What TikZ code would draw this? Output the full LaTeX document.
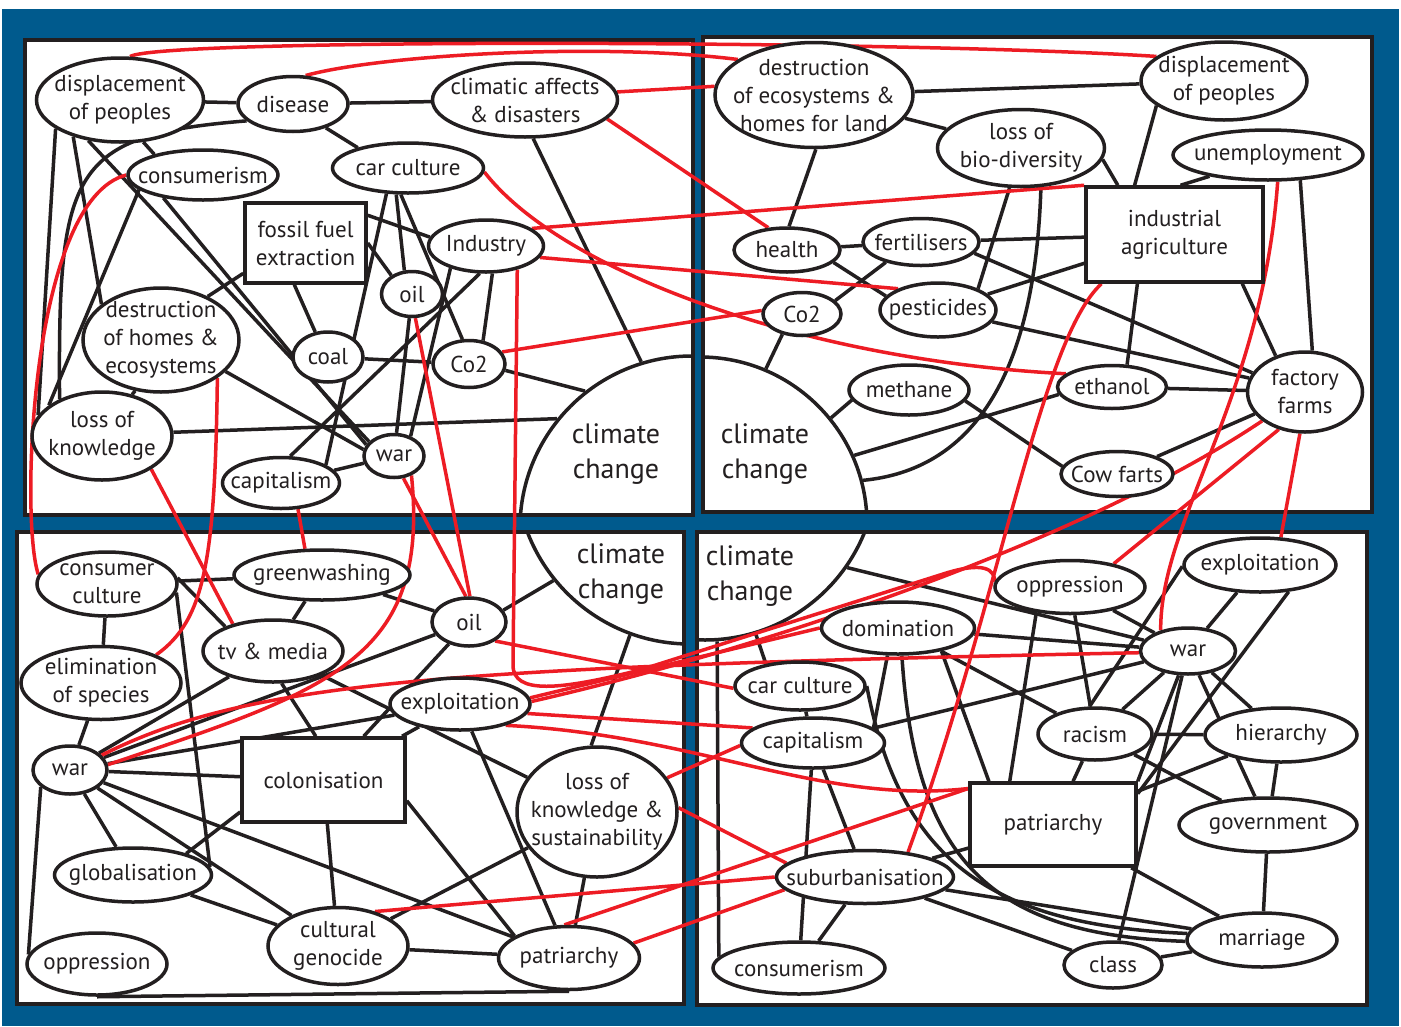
\documentclass[tikz,border=0pt]{standalone}
\usepackage{fontspec}
\setmainfont{PT Sans}
\usepackage{tikz}
\usetikzlibrary{shapes,arrows}
\definecolor{bgblue}{RGB}{0,90,141}
\definecolor{linkred}{RGB}{237,28,36}
\definecolor{inkblack}{RGB}{35,31,32}
\pgfdeclarelayer{panels}
\pgfdeclarelayer{links}
\pgfsetlayers{panels,links,main}
\tikzstyle{bubble} = [ellipse, draw=inkblack, line width=3.5pt, fill=white, inner sep=0pt]
\tikzstyle{words} = [align=center, inner sep=0pt, text=inkblack, font=\fontsize{23}{28}\selectfont]
\tikzstyle{boxnode} = [rectangle, draw=inkblack, line width=3.5pt, fill=white, inner sep=0pt, align=center, text=inkblack, font=\fontsize{23}{28}\selectfont]
\tikzstyle{bigcircle} = [circle, draw=inkblack, line width=3.5pt, fill=white, inner sep=0pt]
\tikzstyle{bigwords} = [align=center, inner sep=0pt, text=inkblack, font=\fontsize{28}{35}\selectfont]
\tikzstyle{panel} = [draw=inkblack, line width=4pt, fill=white]
\tikzstyle{blackline} = [line width=3.5pt, inkblack]
\tikzstyle{redline} = [line width=3.5pt, linkred]

\begin{document}
\begin{tikzpicture}[x=1pt, y=-1pt]
\useasboundingbox (0,0) rectangle (1401,1026);

\begin{pgfonlayer}{panels}
\fill[bgblue] (2,9) rectangle (1399,1026);
\fill[white] (25,40) rectangle (693,515);
\fill[white] (703,37) rectangle (1372,512);
\fill[white] (17,532) rectangle (684,1004);
\fill[white] (697,532) rectangle (1367,1005);
\begin{scope}
\clip (25,40) rectangle (693,515);
\node[bigcircle, minimum size=344pt] (ccTL) at (692,528) {};
\end{scope}
\begin{scope}
\clip (703,37) rectangle (1372,512);
\node[bigcircle, minimum size=334pt] (ccTR) at (700,524) {};
\end{scope}
\begin{scope}
\clip (17,532) rectangle (684,1004);
\node[bigcircle, minimum size=348pt] (ccBL) at (690,470) {};
\end{scope}
\begin{scope}
\clip (697,532) rectangle (1367,1005);
\node[bigcircle, minimum size=344pt] (ccBR) at (705,468) {};
\end{scope}
\draw[panel, fill=none] (25,40) rectangle (693,515);
\draw[panel, fill=none] (703,37) rectangle (1372,512);
\draw[panel, fill=none] (17,532) rectangle (684,1004);
\draw[panel, fill=none] (697,532) rectangle (1367,1005);
\end{pgfonlayer}

\node[bigwords] (ccTLtext) at (616,454) {climate\\change};
\node[bigwords] (ccTRtext) at (765,454) {climate\\change};
\node[bigwords] (ccBLtext) at (621,574) {climate\\change};
\node[bigwords] (ccBRtext) at (750,576) {climate\\change};

\node[bubble, minimum width=167pt, minimum height=84pt, label={[words]center:{displacement\\of peoples}}] (dispTL) at (120,100) {};
\node[bubble, minimum width=110pt, minimum height=55pt, label={[words]center:disease}] (disease) at (293,104) {};
\node[bubble, minimum width=185pt, minimum height=74pt, label={[words]center:{climatic affects\\\& disasters}}] (climatic) at (525,100) {};
\node[bubble, minimum width=150pt, minimum height=50pt, label={[words]center:consumerism}] (consumTL) at (203,175) {};
\node[bubble, minimum width=151pt, minimum height=50pt, label={[words]center:car culture}] (carcultTL) at (408,168) {};
\node[boxnode, minimum width=121pt, minimum height=80pt] (fossil) at (305.5,243) {fossil fuel\\extraction};
\node[bubble, minimum width=115pt, minimum height=52pt, label={[words]center:Industry}] (industry) at (486,246) {};
\node[bubble, minimum width=61pt, minimum height=45pt, label={[words]center:oil}] (oilTL) at (412,294) {};
\node[bubble, minimum width=156pt, minimum height=104pt, label={[words]center:{destruction\\of homes \&\\ecosystems}}] (destTL) at (161,340) {};
\node[bubble, minimum width=70pt, minimum height=50pt, label={[words]center:coal}] (coal) at (328,357) {};
\node[bubble, minimum width=72pt, minimum height=47pt, label={[words]center:Co2}] (co2TL) at (469,364) {};
\node[bubble, minimum width=140pt, minimum height=88pt, label={[words]center:{loss of\\knowledge}}] (lossTL) at (102,436) {};
\node[bubble, minimum width=60pt, minimum height=43pt, label={[words]center:war}] (warTL) at (394,456) {};
\node[bubble, minimum width=117pt, minimum height=51pt, label={[words]center:capitalism}] (capitalTL) at (281,483) {};

\node[bubble, minimum width=198pt, minimum height=105pt, label={[words]center:{destruction\\of ecosystems \&\\homes for land}}] (destTR) at (814,95) {};
\node[bubble, minimum width=166pt, minimum height=78pt, label={[words]center:{displacement\\of peoples}}] (dispTR) at (1224,81) {};
\node[bubble, minimum width=167pt, minimum height=77pt, label={[words]center:{loss of\\bio-diversity}}] (biodiv) at (1021,148) {};
\node[bubble, minimum width=190pt, minimum height=50pt, label={[words]center:unemployment}] (unemployment) at (1268,155) {};
\node[boxnode, minimum width=177pt, minimum height=95pt] (indag) at (1174.5,234.5) {industrial\\agriculture};
\node[bubble, minimum width=106pt, minimum height=44pt, label={[words]center:health}] (health) at (787,250) {};
\node[bubble, minimum width=116pt, minimum height=47pt, label={[words]center:fertilisers}] (fertilisers) at (921,242) {};
\node[bubble, minimum width=78pt, minimum height=43pt, label={[words]center:Co2}] (co2TR) at (802,314) {};
\node[bubble, minimum width=116pt, minimum height=54pt, label={[words]center:pesticides}] (pesticides) at (938,310) {};
\node[bubble, minimum width=120pt, minimum height=50pt, label={[words]center:methane}] (methane) at (909,390) {};
\node[bubble, minimum width=109pt, minimum height=43pt, label={[words]center:ethanol}] (ethanol) at (1112,387) {};
\node[bubble, minimum width=115pt, minimum height=80pt, label={[words]center:{factory\\farms}}] (factory) at (1305,392) {};
\node[bubble, minimum width=112pt, minimum height=45pt, label={[words]center:Cow farts}] (cowfarts) at (1117,474) {};

\node[bubble, minimum width=140pt, minimum height=64pt, label={[words]center:{consumer\\culture}}] (consumculture) at (107,584) {};
\node[bubble, minimum width=176pt, minimum height=50pt, label={[words]center:greenwashing}] (greenwashing) at (322,575) {};
\node[bubble, minimum width=140pt, minimum height=62pt, label={[words]center:tv \& media}] (tvmedia) at (273,651) {};
\node[bubble, minimum width=160pt, minimum height=73pt, label={[words]center:{elimination\\of species}}] (elim) at (101,683) {};
\node[bubble, minimum width=74pt, minimum height=48pt, label={[words]center:oil}] (oilBL) at (469,622) {};
\node[bubble, minimum width=140pt, minimum height=52pt, label={[words]center:exploitation}] (exploitBL) at (460,704) {};
\node[bubble, minimum width=74pt, minimum height=48pt, label={[words]center:war}] (warBL) at (70,770) {};
\node[boxnode, minimum width=163pt, minimum height=84pt] (colonisation) at (323.5,780) {colonisation};
\node[bubble, minimum width=160pt, minimum height=130pt, label={[words]center:{loss of\\knowledge \&\\sustainability}}] (lossBL) at (597,812) {};
\node[bubble, minimum width=157pt, minimum height=54pt, label={[words]center:globalisation}] (globalisation) at (133,875) {};
\node[bubble, minimum width=140pt, minimum height=77pt, label={[words]center:{cultural\\genocide}}] (cultural) at (338,946) {};
\node[bubble, minimum width=141pt, minimum height=63pt, label={[words]center:patriarchy}] (patriarchyBL) at (569,958) {};
\node[bubble, minimum width=140pt, minimum height=62pt, label={[words]center:oppression}] (oppressionBL) at (97,964) {};

\node[bubble, minimum width=150pt, minimum height=53pt, label={[words]center:oppression}] (oppressionBR) at (1070,587) {};
\node[bubble, minimum width=152pt, minimum height=54pt, label={[words]center:exploitation}] (exploitBR) at (1260,565) {};
\node[bubble, minimum width=153pt, minimum height=52pt, label={[words]center:domination}] (domination) at (898,628) {};
\node[bubble, minimum width=95pt, minimum height=46pt, label={[words]center:war}] (warBR) at (1188,651) {};
\node[bubble, minimum width=130pt, minimum height=48pt, label={[words]center:car culture}] (carcultBR) at (800,686) {};
\node[bubble, minimum width=143pt, minimum height=50pt, label={[words]center:capitalism}] (capitalBR) at (813,743) {};
\node[bubble, minimum width=114pt, minimum height=52pt, label={[words]center:racism}] (racism) at (1095,734) {};
\node[bubble, minimum width=152pt, minimum height=54pt, label={[words]center:hierarchy}] (hierarchy) at (1281,735) {};
\node[boxnode, minimum width=166pt, minimum height=83pt] (patriarchyBR) at (1053,824.5) {patriarchy};
\node[bubble, minimum width=178pt, minimum height=54pt, label={[words]center:government}] (government) at (1268,825) {};
\node[bubble, minimum width=177pt, minimum height=53pt, label={[words]center:suburbanisation}] (suburb) at (865,877) {};
\node[bubble, minimum width=150pt, minimum height=54pt, label={[words]center:marriage}] (marriage) at (1262,940) {};
\node[bubble, minimum width=98pt, minimum height=46pt, label={[words]center:class}] (class) at (1113,965) {};
\node[bubble, minimum width=172pt, minimum height=52pt, label={[words]center:consumerism}] (consumBR) at (799,968) {};

\begin{pgfonlayer}{links}
\draw[blackline] (dispTL) -- (disease);
\draw[blackline] (disease) -- (climatic);
\draw[blackline] (disease.324) -- (carcultTL.158);
\draw[blackline] (dispTL.299) -- (consumTL.157);
\draw[blackline] (dispTL.204) -- (lossTL.162);
\draw[blackline] (dispTL.218) -- (destTL.149);
\draw[blackline] (dispTL.232) -- (warTL.150);
\draw[blackline] (consumTL.210) -- (warTL.158);
\draw[blackline] (consumTL.193) -- (lossTL.150);
\draw[blackline] (disease.200) .. controls (70,135) and (58,170) .. (lossTL.139);
\draw[blackline] (destTL.243) -- (lossTL.54);
\draw[blackline] (destTL.43) -- (fossil.206);
\draw[blackline] (destTL.334) -- (warTL.168);
\draw[blackline] (lossTL.3) -- (ccTL.141);
\draw[blackline] (fossil.255) -- (coal.117);
\draw[blackline] (fossil.24) -- (industry.171);
\draw[blackline] (fossil.0) -- (oilTL.138);
\draw[blackline] (carcultTL.230) -- (capitalTL.22);
\draw[blackline] (carcultTL.246) -- (oilTL.108);
\draw[blackline] (carcultTL.255) -- (co2TL.105);
\draw[blackline] (industry.212) -- (warTL.50);
\draw[blackline] (industry.257) -- (capitalTL.71);
\draw[blackline] (industry.283) -- (co2TL.59);
\draw[blackline] (coal) -- (co2TL);
\draw[blackline] (oilTL) -- (warTL);
\draw[blackline] (capitalTL) -- (warTL);
\draw[blackline] (co2TL.350) -- (ccTL.128);
\draw[blackline] (climatic.282) -- (ccTL.107);

\draw[blackline] (destTR) -- (dispTR);
\draw[blackline] (destTR) -- (biodiv);
\draw[blackline] (destTR.272) -- (health.85);
\draw[blackline] (dispTR.200) -- (indag.129);
\draw[blackline] (biodiv.352) -- (indag.139);
\draw[blackline] (unemployment.200) -- (indag.83);
\draw[blackline] (unemployment.322) -- (factory.80);
\draw[blackline] (health) -- (fertilisers);
\draw[blackline] (health.345) -- (pesticides.165);
\draw[blackline] (fertilisers.210) -- (co2TR.22);
\draw[blackline] (fertilisers) -- (indag);
\draw[blackline] (fertilisers.348) -- (factory.160);
\draw[blackline] (pesticides) -- (indag);
\draw[blackline] (pesticides) -- (factory.166);
\draw[blackline] (biodiv.254) -- (pesticides.28);
\draw[blackline] (biodiv.297) .. controls (1035,380) and (970,470) .. (ccTR.15);
\draw[blackline] (indag.233) -- (ethanol.56);
\draw[blackline] (indag.324) -- (factory.129);
\draw[blackline] (co2TR.226) -- (ccTR.67);
\draw[blackline] (methane.190) -- (ccTR.39);
\draw[blackline] (methane.349) -- (cowfarts.172);
\draw[blackline] (ethanol.188) -- (ccTR.24);
\draw[blackline] (ethanol) -- (factory);
\draw[blackline] (cowfarts) -- (factory);

\draw[blackline] (consumculture) -- (greenwashing);
\draw[blackline] (consumculture) -- (elim);
\draw[blackline] (consumculture.5) -- (tvmedia.153);
\draw[blackline] (consumculture.353) -- (globalisation.6);
\draw[blackline] (greenwashing) -- (tvmedia);
\draw[blackline] (greenwashing) -- (oilBL);
\draw[blackline] (elim) -- (warBL);
\draw[blackline] (warBL) -- (tvmedia);
\draw[blackline] (warBL) -- (oilBL);
\draw[blackline] (warBL) -- (exploitBL);
\draw[blackline] (warBL) -- (colonisation);
\draw[blackline] (warBL) -- (globalisation);
\draw[blackline] (warBL.210) -- (oppressionBL.172);
\draw[blackline] (warBL) -- (cultural);
\draw[blackline] (warBL) -- (patriarchyBL);
\draw[blackline] (tvmedia.285) -- (colonisation.100);
\draw[blackline] (tvmedia) -- (lossBL);
\draw[blackline] (oilBL.19) -- (ccBL.219);
\draw[blackline] (colonisation) -- (oilBL);
\draw[blackline] (exploitBL) -- (colonisation);
\draw[blackline] (exploitBL) -- (patriarchyBL);
\draw[blackline] (lossBL.95) -- (ccBL.250);
\draw[blackline] (lossBL) -- (patriarchyBL);
\draw[blackline] (lossBL) -- (cultural);
\draw[blackline] (colonisation) -- (cultural);
\draw[blackline] (colonisation.346) -- (patriarchyBL.158);
\draw[blackline] (globalisation) -- (cultural);
\draw[blackline] (globalisation.22) -- (colonisation.201);
\draw[blackline] (cultural) -- (patriarchyBL);
\draw[blackline] (oppressionBL.south) -- (patriarchyBL.south);

\draw[blackline] (ccBR.325) -- (warBR);
\draw[blackline] (ccBR.287) -- (carcultBR.147);
\draw[blackline] (ccBR.274) -- (consumBR.172);
\draw[blackline] (domination) -- (warBR);
\draw[blackline] (domination) -- (racism);
\draw[blackline] (domination.249) -- (capitalBR.14);
\draw[blackline] (domination.332) -- (patriarchyBR.146);
\draw[blackline] (domination.278) .. controls (915,860) and (990,935) .. (marriage.181);
\draw[blackline] (carcultBR.0) .. controls (900,860) and (990,925) .. (marriage.175);
\draw[blackline] (oppressionBR) -- (warBR);
\draw[blackline] (oppressionBR) -- (racism);
\draw[blackline] (oppressionBR.217) -- (patriarchyBR.135);
\draw[blackline] (exploitBR) -- (warBR);
\draw[blackline] (exploitBR.181) -- (racism.101);
\draw[blackline] (exploitBR.317) -- (patriarchyBR.20);
\draw[blackline] (warBR) -- (capitalBR);
\draw[blackline] (warBR) -- (racism);
\draw[blackline] (warBR) -- (hierarchy);
\draw[blackline] (warBR) -- (government);
\draw[blackline] (warBR) -- (patriarchyBR.north east);
\draw[blackline] (warBR) -- (class);
\draw[blackline] (racism) -- (hierarchy);
\draw[blackline] (racism) -- (government);
\draw[blackline] (racism) -- (patriarchyBR);
\draw[blackline] (hierarchy) -- (patriarchyBR);
\draw[blackline] (hierarchy) -- (government);
\draw[blackline] (government) -- (marriage);
\draw[blackline] (carcultBR) -- (capitalBR);
\draw[blackline] (capitalBR) -- (suburb);
\draw[blackline] (capitalBR) -- (consumBR);
\draw[blackline] (suburb) -- (consumBR);
\draw[blackline] (suburb) -- (patriarchyBR);
\draw[blackline] (suburb) -- (marriage);
\draw[blackline] (suburb) -- (class);
\draw[blackline] (class) -- (marriage);
\draw[blackline] (patriarchyBR) -- (marriage);

\draw[redline] (dispTL.77) .. controls (160,38) and (900,40) .. (dispTR.160);
\draw[redline] (disease.66) .. controls (380,55) and (600,42) .. (destTR.155);
\draw[redline] (climatic.5) -- (destTR.175);
\draw[redline] (climatic.347) -- (health.130);
\draw[redline] (carcultTL.357) .. controls (560,270) and (800,360) .. (ethanol.164);
\draw[redline] (industry.348) -- (pesticides.152);
\draw[redline] (industry.21) -- (indag.north west);
\draw[redline] (co2TL.20) -- (co2TR.175);
\draw[redline] (oilTL.278) -- (oilBL.88);
\draw[redline] (warTL.293) -- (oilBL.97);
\draw[redline] (warTL.312) .. controls (430,660) and (330,690) .. (warBL.8);
\draw[redline] (industry.323) -- (513,665) .. controls (513,695) and (560,690) .. (640,670) -- (940,575) .. controls (985,560) and (995,570) .. (oppressionBR.176);
\draw[redline] (exploitBL.2) .. controls (800,640) and (1100,530) .. (factory.214);
\draw[redline] (exploitBL.5) -- (domination.180);
\draw[redline] (warBL.25) .. controls (250,680) and (450,667) .. (warBR.182);
\draw[redline] (unemployment.290) .. controls (1262,400) and (1160,520) .. (warBR.143);
\draw[redline] (factory.235) -- (oppressionBR.28);
\draw[redline] (factory.263) -- (exploitBR.53);
\draw[redline] (indag.214) .. controls (1040,340) and (1000,600) .. (suburb.30);
\draw[redline] (consumTL.180) .. controls (30,200) and (20,520) .. (consumculture.172);
\draw[redline] (destTL.326) .. controls (215,560) and (205,620) .. (elim.27);
\draw[redline] (lossTL.326) -- (tvmedia.146);
\draw[redline] (capitalTL.303) -- (greenwashing.123);
\draw[redline] (oilBL.324) -- (carcultBR.182);
\draw[redline] (exploitBL.352) -- (capitalBR.166);
\draw[redline] (exploitBL.335) .. controls (700,735) and (820,805) .. (patriarchyBR.157);
\draw[redline] (lossBL.26) -- (capitalBR.182);
\draw[redline] (lossBL.3) -- (suburb.170);
\draw[redline] (cultural.43) -- (suburb.180);
\draw[redline] (patriarchyBL.98) -- (patriarchyBR.157);
\draw[redline] (patriarchyBL.13) -- (suburb.189);
\end{pgfonlayer}
\end{tikzpicture}
\end{document}
